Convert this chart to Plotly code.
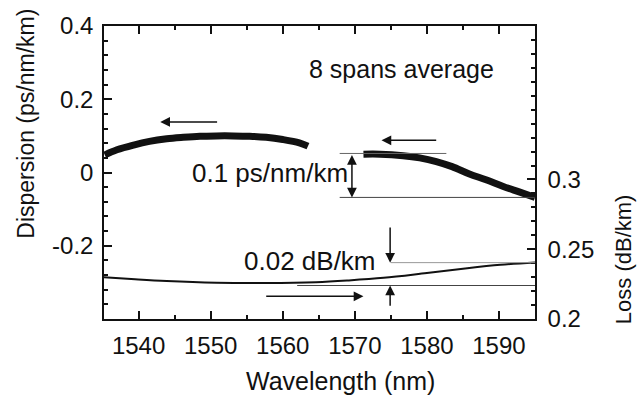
import plotly.graph_objects as go

# ---- data ----
disp_left_wl = [1535.3, 1537.0, 1539.3, 1541.5, 1543.9, 1546.2, 1548.5, 1550.8, 1553.1, 1555.4, 1557.7, 1560.0, 1562.3, 1563.5]
disp_left_val = [0.048, 0.062, 0.075, 0.085, 0.092, 0.096, 0.099, 0.100, 0.100, 0.099, 0.096, 0.090, 0.081, 0.072]
disp_right_wl = [1571.2, 1573.5, 1576.7, 1579.0, 1581.3, 1583.5, 1585.9, 1588.2, 1590.6, 1592.8, 1595.0]
disp_right_val = [0.050, 0.050, 0.046, 0.040, 0.030, 0.016, -0.004, -0.020, -0.038, -0.053, -0.068]
loss_wl = [1535.2, 1539.5, 1543.9, 1550.8, 1557.7, 1564.6, 1569.0, 1574.0, 1580.0, 1585.6, 1590.2, 1595.0]
loss_val = [0.2300, 0.2285, 0.2272, 0.2260, 0.2258, 0.2264, 0.2276, 0.2295, 0.2330, 0.2364, 0.2388, 0.2405]

x_ticks = [1540, 1550, 1560, 1570, 1580, 1590]
y_ticks = [-0.2, 0, 0.2, 0.4]
y_ticktext = ["-0.2", "0", "0.2", "0.4"]
y2_ticks = [0.2, 0.25, 0.3]
y2_ticktext = ["0.2", "0.25", "0.3"]

FONT = "Liberation Sans, Arial, Helvetica, sans-serif"
BLACK = "#111111"

fig = go.Figure()
fig.add_trace(go.Scatter(x=disp_left_wl, y=disp_left_val, mode="lines",
                         line=dict(color=BLACK, width=7, shape="spline"), showlegend=False))
fig.add_trace(go.Scatter(x=disp_right_wl, y=disp_right_val, mode="lines",
                         line=dict(color=BLACK, width=7, shape="spline"), showlegend=False))
fig.add_trace(go.Scatter(x=loss_wl, y=loss_val, mode="lines", yaxis="y2",
                         line=dict(color=BLACK, width=2, shape="spline"), showlegend=False))

# reference lines
shapes = [
    dict(type="line", xref="x", yref="y", x0=1567.9, x1=1582.7, y0=0.052, y1=0.052,
         line=dict(color="#666666", width=1)),
    dict(type="line", xref="x", yref="y", x0=1567.9, x1=1595, y0=-0.068, y1=-0.068,
         line=dict(color="#444444", width=1)),
    dict(type="line", xref="x", yref="y2", x0=1575.0, x1=1595, y0=0.2404, y1=0.2404,
         line=dict(color="#999999", width=1)),
    dict(type="line", xref="x", yref="y2", x0=1562.0, x1=1595, y0=0.2240, y1=0.2240,
         line=dict(color="#444444", width=1)),
]

ann_font = dict(family=FONT, size=26, color=BLACK)
annotations = [
    dict(text="8 spans average", x=1563.3, y=0.282, xref="x", yref="y", xanchor="left",
         yanchor="middle", showarrow=False, font=dict(family=FONT, size=25, color=BLACK)),
    dict(text="0.1 ps/nm/km", x=1547.2, y=0.0, xref="x", yref="y", xanchor="left",
         yanchor="middle", showarrow=False, font=ann_font),
    dict(text="0.02 dB/km", x=1554.3, y=-0.241, xref="x", yref="y", xanchor="left",
         yanchor="middle", showarrow=False, font=ann_font),
    # horizontal arrows
    dict(x=1543.0, y=0.138, ax=1551.1, ay=0.138, xref="x", yref="y", axref="x", ayref="y",
         text="", showarrow=True, arrowhead=2, arrowsize=1.3, arrowwidth=1.5, arrowcolor=BLACK),
    dict(x=1573.7, y=0.088, ax=1581.5, ay=0.088, xref="x", yref="y", axref="x", ayref="y",
         text="", showarrow=True, arrowhead=2, arrowsize=1.3, arrowwidth=1.5, arrowcolor=BLACK),
    dict(x=1571.2, y=-0.338, ax=1557.5, ay=-0.338, xref="x", yref="y", axref="x", ayref="y",
         text="", showarrow=True, arrowhead=2, arrowsize=1.3, arrowwidth=1.5, arrowcolor=BLACK),
    # double arrow for dispersion span
    dict(x=1569.6, y=-0.068, ax=1569.6, ay=0.052, xref="x", yref="y", axref="x", ayref="y",
         text="", showarrow=True, arrowhead=2, startarrowhead=2, arrowside="end+start",
         arrowsize=1.3, startarrowsize=1.3, arrowwidth=1.5, arrowcolor=BLACK),
    # vertical arrows for loss span
    dict(x=1574.9, y=0.2404, ax=1574.9, ay=0.2667, xref="x", yref="y2", axref="x", ayref="y2",
         text="", showarrow=True, arrowhead=2, arrowsize=1.3, arrowwidth=1.5, arrowcolor=BLACK),
    dict(x=1574.9, y=0.2240, ax=1574.9, ay=0.2084, xref="x", yref="y2", axref="x", ayref="y2",
         text="", showarrow=True, arrowhead=2, arrowsize=1.3, arrowwidth=1.5, arrowcolor=BLACK),
    # axis titles
    dict(text="Dispersion (ps/nm/km)", x=-0.183, y=0.667, xref="paper", yref="paper",
         textangle=-90, showarrow=False, xanchor="center", yanchor="middle",
         font=dict(family=FONT, size=23, color=BLACK)),
    dict(text="Loss (dB/km)", x=1.207, y=0.205, xref="paper", yref="paper",
         textangle=-90, showarrow=False, xanchor="center", yanchor="middle",
         font=dict(family=FONT, size=22, color=BLACK)),
    dict(text="Wavelength (nm)", x=0.548, y=-0.212, xref="paper", yref="paper",
         showarrow=False, xanchor="center", yanchor="middle",
         font=dict(family=FONT, size=25, color=BLACK)),
]

tickfont = dict(family=FONT, size=24, color=BLACK)

fig.update_layout(
    width=638, height=403,
    margin=dict(l=104, r=103, t=18, b=84),
    paper_bgcolor="white", plot_bgcolor="white",
    shapes=shapes, annotations=annotations,
    xaxis=dict(range=[1535.2, 1595], tickmode="array", tickvals=x_ticks,
               ticks="inside", ticklen=8, tickwidth=1.5, tickcolor=BLACK,
               minor=dict(ticks="inside", ticklen=4, tickwidth=1.5, tickcolor=BLACK,
                          tickmode="linear", tick0=1535, dtick=5),
               showline=True, linecolor=BLACK, linewidth=1.5, mirror="ticks",
               showgrid=False, zeroline=False, tickfont=tickfont, ticklabelstandoff=4),
    yaxis=dict(range=[-0.4, 0.4], tickmode="array", tickvals=y_ticks, ticktext=y_ticktext,
               ticks="inside", ticklen=8, tickwidth=1.5, tickcolor=BLACK,
               minor=dict(ticks="inside", ticklen=4, tickwidth=1.5, tickcolor=BLACK,
                          tickmode="linear", tick0=0, dtick=0.04),
               showline=True, linecolor=BLACK, linewidth=1.5,
               showgrid=False, zeroline=False, tickfont=tickfont, ticklabelstandoff=4),
    yaxis2=dict(range=[0.2, 0.41], overlaying="y", side="right",
                tickmode="array", tickvals=y2_ticks, ticktext=y2_ticktext,
                ticks="inside", ticklen=8, tickwidth=1.5, tickcolor=BLACK,
                minor=dict(ticks="inside", ticklen=4, tickwidth=1.5, tickcolor=BLACK,
                           tickmode="linear", tick0=0.2, dtick=0.01),
                showline=True, linecolor=BLACK, linewidth=1.5,
                showgrid=False, zeroline=False, tickfont=tickfont, ticklabelstandoff=6),
)

fig.write_html("out.html")
